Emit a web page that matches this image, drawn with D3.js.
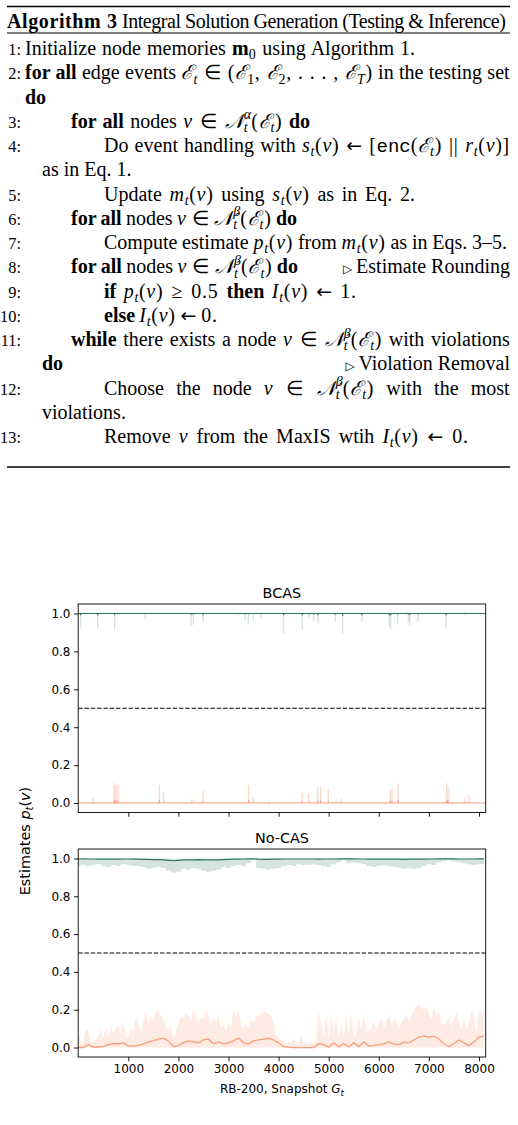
<!DOCTYPE html>
<html><head><meta charset="utf-8">
<script src="https://cdn.jsdelivr.net/npm/d3@7"></script>
<style>body{margin:0;background:#fff} svg{display:block}</style>
</head><body>
<svg id="c" width="518" height="1125"></svg>
<script>
// ---------------- DATA ----------------
const panelTitles = ["BCAS", "No-CAS"];
const xTicks = [1000, 2000, 3000, 4000, 5000, 6000, 7000, 8000];
const yTicks = [0.0, 0.2, 0.4, 0.6, 0.8, 1.0];
const xMax = 8134;
const threshold = 0.5;
const topEstimate = 1.0;
const bottomEstimate = 0.0;

// BCAS: sparse spikes away from 1.0 (green) and 0.0 (orange)
const bcasGreenX   = [49,389,728,1340,2251,2298,2491,3183,3330,3396,3496,3643,4101,4474,4600,4700,4787,5133,5279,5665,6210,6237,6377,6590,6616,6783,7342,7721];
const bcasGreenMin = [0.926,0.92,0.91,0.97,0.935,0.94,0.953,0.988,0.965,0.94,0.97,0.974,0.896,0.914,0.977,0.958,0.947,0.958,0.896,0.953,0.93,0.916,0.94,0.953,0.935,0.956,0.92,0.99];
const bcasGreenMean= [0.99,0.99,0.99,0.998,0.995,0.995,0.99,0.998,0.995,0.995,0.998,0.998,0.99,0.99,0.995,0.995,0.99,0.995,0.988,0.99,0.99,0.99,0.995,0.995,0.992,0.995,0.99,0.998];
const bcasOrangeX   = [289,721,754,794,1619,1706,2265,2311,2491,3402,3496,3815,4474,4600,4780,4840,4993,5146,5252,6230,6264,6384,7355,7382,7708,7801];
const bcasOrangeMax = [0.03,0.106,0.097,0.097,0.097,0.057,0.018,0.018,0.065,0.097,0.03,0.01,0.048,0.05,0.088,0.083,0.07,0.012,0.023,0.076,0.067,0.104,0.104,0.083,0.023,0.044];
const bcasOrangeMean= [0.005,0.015,0.015,0.012,0.015,0.008,0.003,0.003,0.01,0.015,0.005,0.002,0.008,0.008,0.012,0.012,0.01,0.002,0.004,0.012,0.01,0.015,0.015,0.012,0.004,0.006];

// No-CAS: snapshot grids
const nocasFineStep = 50;    // orange upper band sampled every 50 snapshots
const nocasCoarseStep = 100; // others every 100 snapshots
const nocasOrangeUpper = [
 0.08,0.03,0.02,0.09,0.10,0.03,0.02,0.04,0.06,0.10,
 0.05,0.11,0.06,0.11,0.08,0.10,0.12,0.07,0.14,0.06,
 0.05,0.10,0.08,0.16,0.12,0.09,0.14,0.19,0.12,0.17,
 0.14,0.19,0.20,0.17,0.15,0.11,0.09,0.12,0.05,0.08,
 0.13,0.16,0.15,0.18,0.17,0.14,0.20,0.17,0.13,0.16,
 0.15,0.20,0.17,0.12,0.16,0.14,0.17,0.10,0.12,0.09,
 0.13,0.11,0.20,0.16,0.20,0.12,0.10,0.12,0.11,0.15,
 0.13,0.16,0.17,0.18,0.19,0.185,0.18,0.17,0.13,0.06,
 0.05,0.04,0.03,0.02,0.03,0.02,0.05,0.03,0.02,0.06,
 0.03,0.02,0.02,0.03,0.02,0.04,0.19,0.12,0.05,0.17,
 0.05,0.19,0.07,0.16,0.05,0.13,0.05,0.18,0.06,0.19,
 0.06,0.07,0.16,0.09,0.18,0.08,0.09,0.10,0.15,0.10,
 0.13,0.16,0.10,0.14,0.17,0.12,0.15,0.14,0.10,0.13,
 0.15,0.18,0.14,0.17,0.20,0.22,0.23,0.21,0.20,0.22,
 0.18,0.15,0.21,0.17,0.19,0.13,0.12,0.14,0.16,0.11,
 0.15,0.19,0.12,0.10,0.15,0.09,0.13,0.20,0.16,0.07,
 0.19,0.18,0.20];
const nocasOrangeMean = [
 0.0,0.0,0.015,0.003,0.003,0.005,0.015,0.02,0.02,0.025,
 0.008,0.008,0.012,0.02,0.03,0.035,0.045,0.05,0.035,0.005,
 0.01,0.025,0.035,0.03,0.025,0.04,0.045,0.02,0.03,0.02,
 0.025,0.035,0.05,0.025,0.02,0.035,0.04,0.045,0.05,0.04,
 0.025,0.005,0.002,0.0,0.0,0.0,0.0,0.0,0.02,0.015,
 0.002,0.025,0.003,0.02,0.003,0.025,0.005,0.03,0.008,0.01,
 0.015,0.02,0.03,0.02,0.015,0.03,0.025,0.04,0.055,0.06,
 0.055,0.06,0.045,0.02,0.005,0.02,0.04,0.025,0.01,0.03,
 0.055,0.06];
const nocasGreenLower = [
 0.96,0.965,0.96,0.965,0.97,0.96,0.955,0.965,0.96,0.97,
 0.965,0.96,0.96,0.955,0.945,0.95,0.955,0.95,0.935,0.925,
 0.93,0.945,0.94,0.95,0.945,0.935,0.93,0.935,0.94,0.955,
 0.95,0.96,0.965,0.96,0.975,0.99,0.95,0.945,0.94,0.945,
 0.95,0.96,0.965,0.96,0.97,0.965,0.965,0.97,0.965,0.96,
 0.955,0.97,0.98,0.99,0.975,0.98,0.975,0.97,0.96,0.955,
 0.96,0.965,0.96,0.955,0.95,0.945,0.95,0.945,0.95,0.96,
 0.97,0.965,0.98,0.985,0.99,0.985,0.98,0.975,0.97,0.965,
 0.97,0.97];
const nocasGreenMean = [
 0.997,0.998,0.997,0.997,0.996,0.997,0.996,0.997,0.996,0.997,
 0.997,0.996,0.996,0.995,0.995,0.994,0.994,0.992,0.99,0.988,
 0.99,0.992,0.993,0.993,0.994,0.993,0.992,0.992,0.993,0.994,
 0.995,0.996,0.996,0.997,0.998,0.998,0.996,0.995,0.995,0.996,
 0.996,0.997,0.997,0.997,0.997,0.997,0.997,0.997,0.996,0.997,
 0.997,0.997,0.998,0.998,0.998,0.998,0.997,0.997,0.996,0.996,
 0.997,0.996,0.996,0.996,0.996,0.995,0.996,0.996,0.996,0.996,
 0.997,0.997,0.998,0.998,0.998,0.998,0.997,0.997,0.997,0.997,
 0.998,0.998];

// ---------------- STYLE ----------------
const GREEN_LINE = "#2b7a5d", GREEN_BAND = "#d6e4de";
const ORANGE_LINE = "#fa9c7d", ORANGE_BAND = "#feebe4", ORANGE_SPIKE = "#fdd9cc";
const SANS = "'DejaVu Sans', sans-serif";
const SERIF = "'Liberation Serif', serif";
const MONO = "'Liberation Mono', monospace";

const svg = d3.select("#c");

// ================= ALGORITHM BOX =================
const alg = svg.append("g");
const FS = 20;
const MATH_LS = "0.7px";
function renderRuns(g, runs, x, y, fs) {
  const t = g.append("text").attr("x", x).attr("y", y).attr("xml:space", "preserve")
    .attr("font-family", SERIF).attr("font-size", fs).attr("fill", "#000");
  let shift = 0;
  let prev = null;
  // expand arrows into their own runs
  const exp = [];
  runs.forEach(r => {
    if ((r[0] === "r" || r[0] === "mr") && r[1].includes("←")) {
      r[1].split(/(←)/).forEach(part => { if (part === "←") exp.push(["arr", part]); else if (part) exp.push([r[0], part]); });
    } else exp.push(r);
  });
  exp.forEach(r => {
    const [st, txt, back] = r;
    const ts = t.append("tspan").text(txt);
    let target = 0;
    if (st === "b" || st === "mb") ts.attr("font-weight", "bold");
    if (st === "i") ts.attr("font-style", "italic").style("letter-spacing", MATH_LS);
    if (st === "mr") ts.style("letter-spacing", MATH_LS);
    if (st === "arr") ts.attr("font-family", SANS).attr("font-size", fs * 0.95);
    if (st === "tt") ts.attr("font-family", MONO).attr("font-size", fs * 0.95);
    if (st === "cal") ts.attr("font-family", "'DejaVu Serif', serif").attr("font-style", "italic");
    if (st === "sub" || st === "subr") { target = fs * 0.22; ts.attr("font-size", fs * 0.7).style("letter-spacing", MATH_LS); if (st === "sub") ts.attr("font-style", "italic"); }
    if (st === "sup") { target = -fs * 0.42; ts.attr("font-size", fs * 0.7).attr("font-style", "italic"); }
    if (target - shift !== 0) ts.attr("dy", target - shift);
    shift = target;
    if (back && prev) ts.attr("dx", -prev.node().getComputedTextLength());
    prev = ts;
  });
  return t;
}
function textWidth(t) { return t.node().getBBox().width; }
function countSpaces(runs) {
  return runs.filter(r => !["sub", "subr", "sup"].includes(r[0]))
    .map(r => (r[1].match(/ /g) || []).length).reduce((a, b) => a + b, 0);
}

// math helpers
const E = (s) => [["cal", "ℰ"], ["sub", s]];
const pt = [["i", "p"], ["sub", "t"], ["mr", "("], ["i", "v"], ["mr", ")"]];
const mt = [["i", "m"], ["sub", "t"], ["mr", "("], ["i", "v"], ["mr", ")"]];
const st_ = [["i", "s"], ["sub", "t"], ["mr", "("], ["i", "v"], ["mr", ")"]];
const It = [["i", "I"], ["sub", "t"], ["mr", "("], ["i", "v"], ["mr", ")"]];
const Nset = (sup) => [["cal", "𝒩"], ["sub", "t"], ["sup", sup, true], ["mr", "("], ...E("t"), ["mr", ")"]];

const X0 = 25, X1 = 71, X2 = 104, XC = 42, XR = 510;
const rows = [
  { n: 1, x: X0, end: 415, runs: [["r", "Initialize node memories "], ["mb", "m"], ["subr", "0"], ["r", " using Algorithm 1."]] },
  { n: 2, x: X0, end: XR, runs: [["b", "for all"], ["r", " edge events "], ...E("t"), ["mr", " ∈ ("], ["cal", "ℰ"], ["subr", "1"], ["mr", ", "], ["cal", "ℰ"], ["subr", "2"], ["mr", ", . . . , "], ["cal", "ℰ"], ["sub", "T"], ["mr", ")"], ["r", " in the testing set"]] },
  { x: X0, runs: [["b", "do"]] },
  { n: 3, x: X1, end: 310, runs: [["b", "for all"], ["r", " nodes "], ["i", "v"], ["mr", " ∈ "], ...Nset("α"), ["r", " "], ["b", "do"]] },
  { n: 4, x: X2, end: XR, runs: [["r", "Do event handling with "], ...st_, ["mr", " ← ["], ["tt", "enc"], ["mr", "("], ...E("t"), ["mr", ") || "], ["i", "r"], ["sub", "t"], ["mr", "("], ["i", "v"], ["mr", ")]"]] },
  { x: XC, runs: [["r", "as in Eq. 1."]] },
  { n: 5, x: X2, end: 415, runs: [["r", "Update "], ...mt, ["r", " using "], ...st_, ["r", " as in Eq. 2."]] },
  { n: 6, x: X1, end: 297, runs: [["b", "for all"], ["r", " nodes "], ["i", "v"], ["mr", " ∈ "], ...Nset("β"), ["r", " "], ["b", "do"]] },
  { n: 7, x: X2, end: 507, runs: [["r", "Compute estimate "], ...pt, ["r", " from "], ...mt, ["r", " as in Eqs. 3–5."]] },
  { n: 8, x: X1, end: 298, runs: [["b", "for all"], ["r", " nodes "], ["i", "v"], ["mr", " ∈ "], ...Nset("β"), ["r", " "], ["b", "do"]], right: "Estimate Rounding" },
  { n: 9, x: X2, end: 356, runs: [["b", "if"], ["r", " "], ...pt, ["mr", " ≥ 0.5 "], ["b", "then"], ["r", " "], ...It, ["mr", " ← 1"], ["r", "."]] },
  { n: 10, x: X2, end: 217, runs: [["b", "else"], ["r", " "], ...It, ["mr", " ← 0"], ["r", "."]] },
  { n: 11, x: X1, end: XR, runs: [["b", "while"], ["r", " there exists a node "], ["i", "v"], ["mr", " ∈ "], ...Nset("β"), ["r", " with violations"]] },
  { x: XC, runs: [["b", "do"]], right: "Violation Removal" },
  { n: 12, x: X2, end: XR, runs: [["r", "Choose the node "], ["i", "v"], ["mr", " ∈ "], ...Nset("β"), ["r", " with the most"]] },
  { x: XC, runs: [["r", "violations."]] },
  { n: 13, x: X2, end: 468, runs: [["r", "Remove "], ["i", "v"], ["r", " from the MaxIS wtih "], ...It, ["mr", " ← 0"], ["r", "."]] },
];

// rules
const ruleX0 = 7, ruleX1 = 510;
alg.append("line").attr("x1", ruleX0).attr("x2", ruleX1).attr("y1", 6.5).attr("y2", 6.5).attr("stroke", "#000").attr("stroke-width", 1.4);
alg.append("line").attr("x1", ruleX0).attr("x2", ruleX1).attr("y1", 33).attr("y2", 33).attr("stroke", "#000").attr("stroke-width", 1);
alg.append("line").attr("x1", ruleX0).attr("x2", ruleX1).attr("y1", 467).attr("y2", 467).attr("stroke", "#000").attr("stroke-width", 1.4);

// title (fit to rule width)
{
  const t = alg.append("text").attr("x", ruleX0).attr("y", 28).attr("xml:space", "preserve")
    .attr("font-family", SERIF).attr("font-size", FS);
  t.append("tspan").attr("font-weight", "bold").style("letter-spacing", "0.6px").text("Algorithm 3");
  const r = t.append("tspan").text(" Integral Solution Generation (Testing & Inference)");
  const wr = r.node().getComputedTextLength();
  const target = ruleX1 - 127 + 5;
  r.style("letter-spacing", ((target - wr) / 51).toFixed(3) + "px");
}

const y0 = 55, pitch = 24.25;
rows.forEach((row, i) => {
  const y = y0 + i * pitch;
  if (row.n) {
    alg.append("text").attr("x", 21).attr("y", y).attr("text-anchor", "end")
      .attr("font-family", SERIF).attr("font-size", FS * 0.82).text(row.n + ":");
  }
  const t = renderRuns(alg, row.runs, row.x, y, FS);
  if (row.end) {
    const w = textWidth(t);
    const nsp = countSpaces(row.runs);
    if (nsp > 0) t.style("word-spacing", (((row.end - row.x) - w) / nsp).toFixed(2) + "px");
  }
  if (row.right) {
    const rt = alg.append("text").attr("x", XR).attr("y", y).attr("text-anchor", "end")
      .attr("font-family", SERIF).attr("font-size", FS);
    rt.append("tspan").attr("font-family", SANS).attr("font-size", FS * 0.6).text("▷ ");
    rt.append("tspan").text(row.right);
  }
});

// ================= CHART =================
const xL = 78.2, xR = 485.7;
const x = d3.scaleLinear().domain([0, xMax]).range([xL, xR]);
const panels = [
  { top: 604, bottom: 812.5, title: panelTitles[0], labels: false },
  { top: 849, bottom: 1057, title: panelTitles[1], labels: true },
];

panels.forEach((p, pi) => {
  const y = d3.scaleLinear().domain([-0.05, 1.05]).range([p.bottom, p.top]);
  const g = svg.append("g");
  const clipId = "clip" + pi;
  svg.append("clipPath").attr("id", clipId).append("rect")
    .attr("x", xL).attr("y", p.top).attr("width", xR - xL).attr("height", p.bottom - p.top);
  const plot = g.append("g").attr("clip-path", `url(#${clipId})`);

  if (pi === 0) {
    plot.selectAll(".gs").data(bcasGreenX).join("line")
      .attr("x1", d => x(d)).attr("x2", d => x(d))
      .attr("y1", y(topEstimate)).attr("y2", (d, i) => y(bcasGreenMin[i]))
      .attr("stroke", GREEN_BAND).attr("stroke-width", 1.4);
    plot.selectAll(".os").data(bcasOrangeX).join("line")
      .attr("x1", d => x(d)).attr("x2", d => x(d))
      .attr("y1", y(bottomEstimate)).attr("y2", (d, i) => y(bcasOrangeMax[i]))
      .attr("stroke", ORANGE_SPIKE).attr("stroke-width", 1.4);
    plot.append("line").attr("x1", xL).attr("x2", xR).attr("y1", y(topEstimate)).attr("y2", y(topEstimate))
      .attr("stroke", GREEN_LINE).attr("stroke-width", 1.1);
    plot.selectAll(".gm").data(bcasGreenX).join("line")
      .attr("x1", d => x(d)).attr("x2", d => x(d))
      .attr("y1", y(topEstimate)).attr("y2", (d, i) => y(bcasGreenMean[i]))
      .attr("stroke", GREEN_LINE).attr("stroke-width", 1.2);
    plot.append("line").attr("x1", xL).attr("x2", xR).attr("y1", y(bottomEstimate)).attr("y2", y(bottomEstimate))
      .attr("stroke", ORANGE_LINE).attr("stroke-width", 1.1);
    plot.selectAll(".om").data(bcasOrangeX).join("line")
      .attr("x1", d => x(d)).attr("x2", d => x(d))
      .attr("y1", y(bottomEstimate)).attr("y2", (d, i) => y(bcasOrangeMean[i]))
      .attr("stroke", ORANGE_LINE).attr("stroke-width", 1.2);
  } else {
    const fineX = nocasOrangeUpper.map((v, i) => i * nocasFineStep);
    const coarseX = nocasGreenLower.map((v, i) => i * nocasCoarseStep);
    plot.append("path").datum(nocasGreenLower)
      .attr("d", d3.area().x((d, i) => x(coarseX[i])).y0(d => y(d)).y1(y(topEstimate)).curve(d3.curveStep))
      .attr("fill", GREEN_BAND);
    plot.append("path").datum(nocasOrangeUpper)
      .attr("d", d3.area().x((d, i) => x(fineX[i])).y0(y(bottomEstimate)).y1(d => y(d)))
      .attr("fill", ORANGE_BAND);
    plot.append("path").datum(nocasGreenMean)
      .attr("d", d3.line().x((d, i) => x(coarseX[i])).y(d => y(d)))
      .attr("fill", "none").attr("stroke", GREEN_LINE).attr("stroke-width", 1.2);
    plot.append("path").datum(nocasOrangeMean)
      .attr("d", d3.line().x((d, i) => x(coarseX[i])).y(d => y(d)))
      .attr("fill", "none").attr("stroke", ORANGE_LINE).attr("stroke-width", 1.3);
  }

  plot.append("line").attr("x1", xL).attr("x2", xR).attr("y1", y(threshold)).attr("y2", y(threshold))
    .attr("stroke", "#000").attr("stroke-width", 1).attr("stroke-dasharray", "4.4,1.9");

  const ya = g.append("g").attr("transform", `translate(${xL},0)`)
    .call(d3.axisLeft(y).tickValues(yTicks).tickFormat(d3.format(".1f")).tickSize(4.2).tickPadding(3.5));
  const xa = g.append("g").attr("transform", `translate(0,${p.bottom})`)
    .call(d3.axisBottom(x).tickValues(xTicks).tickFormat(p.labels ? d3.format("d") : () => "").tickSize(4.2).tickPadding(3.5));
  [ya, xa].forEach(a => {
    a.select(".domain").remove();
    a.selectAll("line").attr("stroke", "#000").attr("stroke-width", 0.9);
    a.selectAll("text").attr("font-family", SANS).attr("font-size", 12).attr("fill", "#000");
  });

  g.append("rect").attr("x", xL).attr("y", p.top).attr("width", xR - xL).attr("height", p.bottom - p.top)
    .attr("fill", "none").attr("stroke", "#000").attr("stroke-width", 0.9);

  g.append("text").attr("x", (xL + xR) / 2).attr("y", p.top - 6.5).attr("text-anchor", "middle")
    .attr("font-family", SANS).attr("font-size", 14.4).text(p.title);
});

// x label
const xl = svg.append("text").attr("x", (xL + xR) / 2).attr("y", 1093).attr("text-anchor", "middle")
  .attr("font-family", SANS).attr("font-size", 12);
xl.append("tspan").text("RB-200, Snapshot ");
xl.append("tspan").attr("font-style", "italic").text("G");
xl.append("tspan").attr("font-style", "italic").attr("font-size", 8.5).attr("dy", 2.5).text("t");

// y label (figure-level, larger)
const yl = svg.append("text").attr("transform", "translate(30,841) rotate(-90)").attr("text-anchor", "middle")
  .attr("font-family", SANS).attr("font-size", 14.4);
yl.append("tspan").text("Estimates ");
yl.append("tspan").attr("font-style", "italic").text("p");
yl.append("tspan").attr("font-style", "italic").attr("font-size", 10).attr("dy", 3).text("t");
yl.append("tspan").attr("dy", -3).text("(");
yl.append("tspan").attr("font-style", "italic").text("v");
yl.append("tspan").text(")");
</script>
</body></html>
